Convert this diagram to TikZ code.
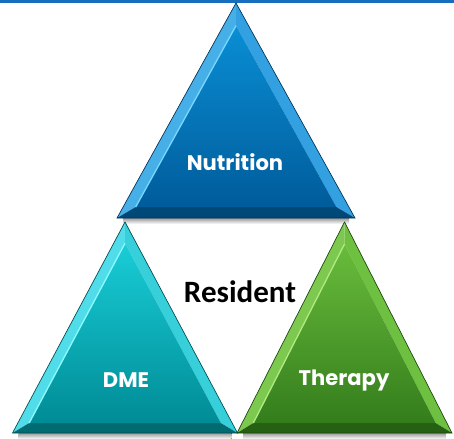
\documentclass[tikz,border=0pt]{standalone}
\usepackage{fontspec}
\newfontfamily\labelfont{Poppins}
\newfontfamily\residentfont{Carlito}
\usetikzlibrary{positioning, calc}

\begin{document}
\begin{tikzpicture}[
    x=0.03cm, y=-0.03cm,
    tri label/.style={font=\labelfont\bfseries\fontsize{18}{21}\selectfont, text=white, inner sep=0pt, anchor=center},
    centre label/.style={font=\residentfont\bfseries\fontsize{26.5}{30}\selectfont, text=black, inner sep=0pt, anchor=center},
    base shadow/.style={top color=black!40, bottom color=white, draw=none},
    top line/.style={draw=lineblue, line width=0.08cm}
]

% Colours
\definecolor{lineblue}{RGB}{24,110,190}
\definecolor{nutr-light}{RGB}{70,175,232}
\definecolor{nutr-mid}{RGB}{50,160,225}
\definecolor{nutr-dark}{RGB}{0,72,120}
\definecolor{nutr-top}{RGB}{10,142,212}
\definecolor{nutr-bot}{RGB}{0,92,155}
\definecolor{nutr-hi}{RGB}{120,215,255}
\definecolor{dme-light}{RGB}{80,220,232}
\definecolor{dme-mid}{RGB}{55,208,218}
\definecolor{dme-dark}{RGB}{0,108,114}
\definecolor{dme-top}{RGB}{25,205,215}
\definecolor{dme-bot}{RGB}{0,140,150}
\definecolor{dme-hi}{RGB}{140,250,255}
\definecolor{ther-light}{RGB}{125,200,78}
\definecolor{ther-mid}{RGB}{110,192,65}
\definecolor{ther-dark}{RGB}{38,96,18}
\definecolor{ther-top}{RGB}{105,188,60}
\definecolor{ther-bot}{RGB}{52,125,28}
\definecolor{ther-hi}{RGB}{175,235,130}

\useasboundingbox (0,0) rectangle (454,438);

% --- Top border line ---
\draw[top line] (0,1.2) -- (454,1.2);

% --- Bevelled triangles ---
% name / apex x / apex y / half base / height / bevel width
\foreach \tri/\ax/\ay/\hb/\h/\d in {nutr/236/3/119/215/11, dme/125/222/112.5/211/10, ther/344.5/222/107.5/211/10} {
    % outer corners
    \coordinate (\tri-a) at (\ax,\ay);
    \coordinate (\tri-b) at (\ax-\hb,\ay+\h);
    \coordinate (\tri-c) at (\ax+\hb,\ay+\h);
    % inner corners (apex moves d / sin of half angle)
    \pgfmathsetmacro\ins{\d*sqrt(1+(\h/\hb)^2)}
    \pgfmathsetmacro\ihb{(\h-\d-\ins)/\h*\hb}
    \coordinate (\tri-ia) at (\ax,\ay+\ins);
    \coordinate (\tri-ib) at (\ax-\ihb,\ay+\h-\d);
    \coordinate (\tri-ic) at (\ax+\ihb,\ay+\h-\d);

    % drop shadow under the base
    \fill[base shadow] ($(\tri-b)+(6,0)$) rectangle ($(\tri-c)+(-6,6)$);

    % facets
    \fill[\tri-light] (\tri-a) -- (\tri-b) -- (\tri-ib) -- (\tri-ia) -- cycle;
    \fill[\tri-mid] (\tri-a) -- (\tri-c) -- (\tri-ic) -- (\tri-ia) -- cycle;
    \fill[\tri-dark] (\tri-b) -- (\tri-c) -- (\tri-ic) -- (\tri-ib) -- cycle;
    % inner face
    \shade[top color=\tri-top, bottom color=\tri-bot] (\tri-ia) -- (\tri-ib) -- (\tri-ic) -- cycle;
    \draw[\tri-hi, line width=0.04cm] (\tri-ia) -- (\tri-ib);
    \draw[\tri-dark!70!black, line width=0.02cm] (\tri-a) -- (\tri-b) -- (\tri-c) -- cycle;
}

% --- Labels ---
\node[tri label] (nutrition) at (235,162) {Nutrition};
\node[tri label] (dme) at (126,380) {DME};
\node[tri label] (therapy) at (344,380) {Therapy};
\node[centre label] (resident) at (240,292) {Resident};

\end{tikzpicture}
\end{document}
